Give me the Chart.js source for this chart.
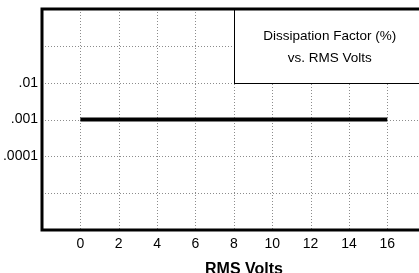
<!DOCTYPE html>
<html>
<head>
<meta charset="utf-8">
<script src="https://cdn.jsdelivr.net/npm/chart.js@4.4.1/dist/chart.umd.min.js"></script>
<style>
    html, body { margin: 0; padding: 0; background: #ffffff; overflow: hidden; }
    #wrap { width: 446px; height: 279px; }
</style>
</head>
<body>
<div id="wrap"><canvas id="dfChart"></canvas></div>
<script>
/* ==========================================
   DATA
========================================== */

// x axis (RMS Volts)
const voltTicks = [0, 2, 4, 6, 8, 10, 12, 14, 16];

// y axis levels, bottom to top (one grid row each)
const dfLevels = ["", "", ".0001", ".001", ".01", "", ""];

// series: dissipation factor stays flat at .001
const seriesVolts = [0, 16];
const seriesLevel = [".001", ".001"];

// legend box text
const boxLines = ["Dissipation Factor (%)", "vs. RMS Volts"];

const points = seriesVolts.map((v, i) => ({ x: v, y: dfLevels.indexOf(seriesLevel[i]) }));

const sans = "'Liberation Sans', Arial, sans-serif";


/* ==========================================
   DOTTED GRID PLUGIN
========================================== */

const dottedGrid = {
    id: "dottedGrid",
    beforeDatasetsDraw(chart) {
        const ctx = chart.ctx;
        const a = chart.chartArea;
        const xs = chart.scales.x;
        const ys = chart.scales.y;
        ctx.save();
        ctx.strokeStyle = "#8c8c8c";
        ctx.lineWidth = 1;
        ctx.setLineDash([1, 2]);
        xs.ticks.forEach(t => {
            const px = Math.round(xs.getPixelForValue(t.value)) + 0.5;
            ctx.beginPath();
            ctx.moveTo(px, a.top);
            ctx.lineTo(px, a.bottom);
            ctx.stroke();
        });
        ys.ticks.forEach(t => {
            const py = Math.round(ys.getPixelForValue(t.value)) + 0.5;
            ctx.beginPath();
            ctx.moveTo(a.left, py);
            ctx.lineTo(a.right, py);
            ctx.stroke();
        });
        ctx.restore();
    }
};


/* ==========================================
   FRAME + LEGEND BOX PLUGIN
========================================== */

const framePlugin = {
    id: "frame",
    afterDraw(chart) {
        const ctx = chart.ctx;
        const a = chart.chartArea;
        const xs = chart.scales.x;
        const ys = chart.scales.y;

        // legend box, from 8 V to the right edge, from .01 up to the top
        const bx = xs.getPixelForValue(8);
        const by = ys.getPixelForValue(dfLevels.length - 1);
        const bb = ys.getPixelForValue(4);
        ctx.save();
        ctx.fillStyle = "#ffffff";
        ctx.fillRect(bx, by, a.right - bx, bb - by);
        ctx.strokeStyle = "#000000";
        ctx.lineWidth = 1;
        ctx.strokeRect(Math.round(bx) + 0.5, by, a.right - bx + 2, Math.round(bb - by) + 0.5);
        ctx.fillStyle = "#000000";
        ctx.font = "13.5px " + sans;
        ctx.textAlign = "center";
        ctx.textBaseline = "alphabetic";
        const cx = (bx + xs.getPixelForValue(18)) / 2;
        ctx.fillText(boxLines[0], cx, by + 31);
        ctx.fillText(boxLines[1], cx, by + 53);

        // thick frame: left, top, bottom
        ctx.lineWidth = 3;
        ctx.beginPath();
        ctx.moveTo(a.right + 2, a.top);
        ctx.lineTo(a.left, a.top);
        ctx.lineTo(a.left, a.bottom);
        ctx.lineTo(a.right + 2, a.bottom);
        ctx.stroke();
        ctx.restore();
    }
};


/* ==========================================
   CHART
========================================== */

new Chart(document.getElementById("dfChart"), {

    type: "scatter",

    data: {
        datasets: [{
            data: points,
            showLine: true,
            borderColor: "#000000",
            borderWidth: 4,
            pointRadius: 0,
            borderCapStyle: "butt"
        }]
    },

    options: {
        responsive: true,
        maintainAspectRatio: false,
        animation: false,
        layout: {
            padding: { top: 9, right: 0, left: 0, bottom: 0 }
        },
        plugins: {
            legend: { display: false },
            tooltip: { enabled: false }
        },
        scales: {
            x: {
                type: "linear",
                min: -2,
                max: 19.06,
                afterBuildTicks(scale) {
                    scale.ticks = voltTicks.map(v => ({ value: v }));
                },
                afterFit(scale) {
                    scale.height = 49;
                    scale.paddingLeft = 0;
                    scale.paddingRight = 0;
                },
                border: { display: false },
                grid: { display: false, drawTicks: false },
                ticks: {
                    color: "#000000",
                    padding: 6,
                    font: { family: sans, size: 14 }
                },
                title: {
                    display: true,
                    text: "RMS Volts",
                    color: "#000000",
                    padding: { top: 0, bottom: 0 },
                    font: { family: sans, size: 16, weight: "bold" }
                }
            },
            y: {
                type: "linear",
                min: 0,
                max: dfLevels.length - 1,
                afterBuildTicks(scale) {
                    scale.ticks = dfLevels.map((t, i) => ({ value: i }));
                },
                afterFit(scale) {
                    scale.width = 42;
                    scale.paddingTop = 0;
                    scale.paddingBottom = 0;
                },
                border: { display: false },
                grid: { display: false, drawTicks: false },
                ticks: {
                    color: "#000000",
                    padding: 4,
                    callback: (v) => dfLevels[v],
                    font: { family: sans, size: 14 }
                }
            }
        }
    },

    plugins: [dottedGrid, framePlugin]

});
</script>
</body>
</html>
